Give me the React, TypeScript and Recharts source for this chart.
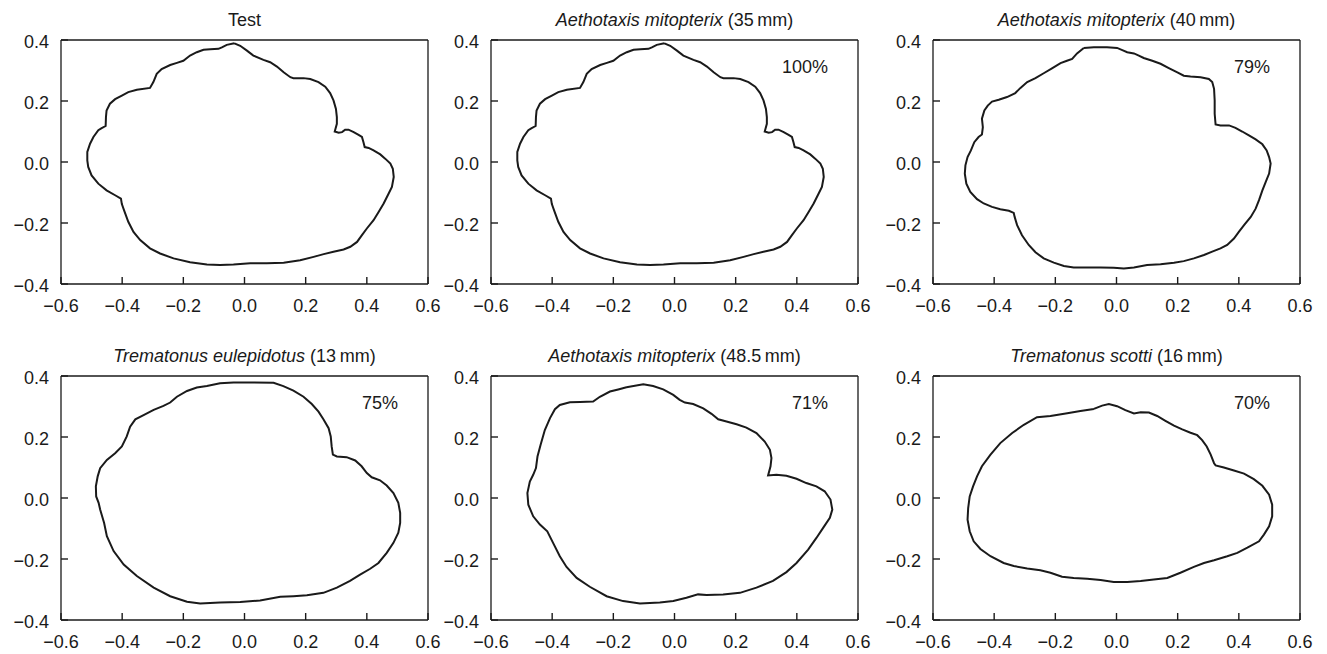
import { ScatterChart, Scatter, XAxis, YAxis } from 'recharts';

// outlines, clockwise from the top, as [x, y]
const testOutline: [number, number][] = [
  [-0.033, 0.389], [-0.014, 0.381], [0.008, 0.365], [0.029, 0.349], [0.062, 0.335], [0.084, 0.327],
  [0.106, 0.313], [0.128, 0.294], [0.15, 0.278], [0.16, 0.275], [0.193, 0.275], [0.215, 0.272],
  [0.242, 0.262], [0.264, 0.247], [0.28, 0.226], [0.291, 0.202], [0.299, 0.174], [0.302, 0.147],
  [0.302, 0.125], [0.295, 0.1], [0.308, 0.096], [0.319, 0.098], [0.329, 0.106], [0.34, 0.106],
  [0.357, 0.098], [0.373, 0.089], [0.384, 0.082], [0.389, 0.065], [0.393, 0.049], [0.406, 0.046],
  [0.422, 0.038], [0.444, 0.025], [0.46, 0.011], [0.477, -0.005], [0.485, -0.022], [0.488, -0.049],
  [0.482, -0.082], [0.471, -0.104], [0.455, -0.136], [0.439, -0.163], [0.422, -0.191], [0.4, -0.218],
  [0.384, -0.24], [0.368, -0.262], [0.346, -0.278], [0.324, -0.287], [0.291, -0.294], [0.259, -0.302],
  [0.226, -0.311], [0.182, -0.322], [0.128, -0.33], [0.073, -0.332], [0.019, -0.332], [-0.036, -0.336],
  [-0.08, -0.338], [-0.123, -0.336], [-0.178, -0.329], [-0.232, -0.316], [-0.276, -0.3], [-0.309, -0.283],
  [-0.341, -0.256], [-0.363, -0.229], [-0.38, -0.196], [-0.394, -0.158], [-0.401, -0.138], [-0.404, -0.12],
  [-0.423, -0.109], [-0.451, -0.093], [-0.478, -0.071], [-0.5, -0.044], [-0.511, -0.016], [-0.514, 0.005],
  [-0.514, 0.033], [-0.505, 0.06], [-0.494, 0.082], [-0.478, 0.104], [-0.467, 0.111], [-0.454, 0.118],
  [-0.453, 0.147], [-0.451, 0.169], [-0.44, 0.191], [-0.423, 0.206], [-0.401, 0.218], [-0.38, 0.229],
  [-0.352, 0.237], [-0.309, 0.243], [-0.298, 0.262], [-0.287, 0.289], [-0.271, 0.305], [-0.243, 0.318],
  [-0.221, 0.325], [-0.2, 0.332], [-0.178, 0.349], [-0.156, 0.36], [-0.134, 0.368], [-0.112, 0.37],
  [-0.085, 0.371], [-0.074, 0.376], [-0.058, 0.384],
];

const mitopterix40: [number, number][] = [
  [-0.107, 0.374], [-0.074, 0.376], [-0.031, 0.376], [0.002, 0.374], [0.019, 0.367], [0.035, 0.36],
  [0.057, 0.356], [0.073, 0.349], [0.089, 0.341], [0.117, 0.332], [0.144, 0.322], [0.171, 0.308],
  [0.199, 0.294], [0.22, 0.283], [0.242, 0.28], [0.275, 0.278], [0.302, 0.272], [0.313, 0.262],
  [0.319, 0.24], [0.321, 0.202], [0.321, 0.158], [0.324, 0.123], [0.34, 0.12], [0.368, 0.12],
  [0.389, 0.112], [0.411, 0.1], [0.433, 0.087], [0.455, 0.074], [0.477, 0.058], [0.491, 0.038],
  [0.499, 0.016], [0.504, -0.005], [0.499, -0.038], [0.488, -0.065], [0.477, -0.093], [0.466, -0.125],
  [0.455, -0.153], [0.439, -0.18], [0.417, -0.207], [0.4, -0.229], [0.384, -0.251], [0.362, -0.272],
  [0.34, -0.283], [0.313, -0.294], [0.286, -0.305], [0.253, -0.316], [0.22, -0.325], [0.188, -0.33],
  [0.144, -0.335], [0.1, -0.338], [0.057, -0.346], [0.024, -0.349], [-0.009, -0.347], [-0.052, -0.346],
  [-0.096, -0.346], [-0.14, -0.346], [-0.172, -0.341], [-0.205, -0.33], [-0.238, -0.316], [-0.265, -0.296],
  [-0.287, -0.272], [-0.309, -0.24], [-0.325, -0.207], [-0.333, -0.18], [-0.336, -0.167], [-0.352, -0.16],
  [-0.38, -0.155], [-0.407, -0.147], [-0.434, -0.136], [-0.456, -0.122], [-0.478, -0.098], [-0.491, -0.071],
  [-0.496, -0.038], [-0.494, -0.011], [-0.487, 0.016], [-0.476, 0.038], [-0.465, 0.065], [-0.451, 0.082],
  [-0.44, 0.09], [-0.437, 0.114], [-0.44, 0.142], [-0.432, 0.169], [-0.421, 0.185], [-0.407, 0.198],
  [-0.385, 0.204], [-0.358, 0.213], [-0.331, 0.226], [-0.314, 0.243], [-0.292, 0.262], [-0.265, 0.275],
  [-0.238, 0.291], [-0.211, 0.307], [-0.183, 0.324], [-0.162, 0.332], [-0.145, 0.338], [-0.129, 0.356],
];

const eulepidotus13: [number, number][] = [
  [-0.123, 0.367], [-0.08, 0.376], [-0.036, 0.379], [0.029, 0.379], [0.095, 0.378], [0.127, 0.367],
  [0.16, 0.352], [0.193, 0.332], [0.22, 0.308], [0.242, 0.283], [0.258, 0.258], [0.275, 0.229],
  [0.282, 0.202], [0.285, 0.169], [0.289, 0.142], [0.302, 0.136], [0.334, 0.134], [0.362, 0.123],
  [0.383, 0.104], [0.4, 0.082], [0.416, 0.068], [0.443, 0.058], [0.465, 0.041], [0.487, 0.016],
  [0.503, -0.016], [0.509, -0.049], [0.509, -0.082], [0.503, -0.114], [0.487, -0.147], [0.465, -0.18],
  [0.438, -0.213], [0.411, -0.232], [0.378, -0.251], [0.345, -0.272], [0.302, -0.294], [0.258, -0.311],
  [0.204, -0.319], [0.16, -0.322], [0.117, -0.324], [0.051, -0.336], [-0.014, -0.341], [-0.08, -0.343],
  [-0.145, -0.346], [-0.188, -0.34], [-0.243, -0.322], [-0.297, -0.294], [-0.352, -0.256], [-0.395, -0.218],
  [-0.428, -0.174], [-0.45, -0.125], [-0.459, -0.082], [-0.472, -0.038], [-0.477, -0.016], [-0.485, 0.005],
  [-0.486, 0.038], [-0.48, 0.071], [-0.472, 0.098], [-0.45, 0.125], [-0.423, 0.147], [-0.401, 0.169],
  [-0.385, 0.202], [-0.374, 0.234], [-0.357, 0.258], [-0.33, 0.272], [-0.297, 0.289], [-0.265, 0.302],
  [-0.243, 0.313], [-0.221, 0.332], [-0.188, 0.351], [-0.156, 0.362],
];

const mitopterix485: [number, number][] = [
  [-0.157, 0.363], [-0.102, 0.373], [-0.07, 0.367], [-0.037, 0.356], [-0.004, 0.338], [0.017, 0.322],
  [0.034, 0.313], [0.061, 0.308], [0.094, 0.294], [0.121, 0.276], [0.143, 0.258], [0.17, 0.251],
  [0.203, 0.242], [0.235, 0.231], [0.268, 0.213], [0.295, 0.185], [0.312, 0.158], [0.317, 0.131],
  [0.314, 0.104], [0.306, 0.074], [0.333, 0.076], [0.366, 0.073], [0.399, 0.063], [0.431, 0.049],
  [0.464, 0.038], [0.491, 0.022], [0.51, -0.005], [0.516, -0.038], [0.508, -0.065], [0.486, -0.098],
  [0.464, -0.131], [0.437, -0.169], [0.399, -0.213], [0.366, -0.243], [0.322, -0.272], [0.268, -0.294],
  [0.214, -0.311], [0.159, -0.316], [0.105, -0.318], [0.077, -0.316], [0.039, -0.327], [-0.004, -0.338],
  [-0.048, -0.343], [-0.113, -0.346], [-0.168, -0.338], [-0.222, -0.322], [-0.277, -0.291], [-0.32, -0.262],
  [-0.353, -0.226], [-0.375, -0.191], [-0.397, -0.147], [-0.416, -0.109], [-0.44, -0.087], [-0.462, -0.06],
  [-0.478, -0.022], [-0.481, 0.016], [-0.473, 0.054], [-0.462, 0.076], [-0.453, 0.098], [-0.448, 0.136],
  [-0.438, 0.174], [-0.424, 0.223], [-0.407, 0.262], [-0.391, 0.291], [-0.375, 0.305], [-0.342, 0.314],
  [-0.309, 0.315], [-0.266, 0.316], [-0.244, 0.332], [-0.211, 0.349], [-0.184, 0.356],
];

const scotti16: [number, number][] = [
  [-0.074, 0.292], [-0.047, 0.303], [-0.025, 0.308], [0.002, 0.301], [0.029, 0.288], [0.057, 0.277],
  [0.079, 0.281], [0.106, 0.28], [0.133, 0.269], [0.16, 0.253], [0.188, 0.237], [0.215, 0.225],
  [0.242, 0.214], [0.264, 0.206], [0.28, 0.19], [0.295, 0.169], [0.308, 0.142], [0.319, 0.114],
  [0.324, 0.107], [0.351, 0.1], [0.384, 0.09], [0.417, 0.08], [0.449, 0.062], [0.477, 0.04],
  [0.499, 0.011], [0.509, -0.022], [0.509, -0.06], [0.499, -0.093], [0.482, -0.12], [0.466, -0.142],
  [0.428, -0.163], [0.395, -0.18], [0.362, -0.191], [0.319, -0.204], [0.286, -0.213], [0.253, -0.226],
  [0.209, -0.245], [0.166, -0.262], [0.122, -0.267], [0.079, -0.272], [0.035, -0.275], [-0.009, -0.275],
  [-0.052, -0.269], [-0.096, -0.265], [-0.14, -0.262], [-0.178, -0.258], [-0.216, -0.245], [-0.249, -0.237],
  [-0.292, -0.231], [-0.336, -0.223], [-0.369, -0.213], [-0.412, -0.191], [-0.445, -0.167], [-0.467, -0.142],
  [-0.48, -0.109], [-0.487, -0.071], [-0.485, -0.033], [-0.48, 0.005], [-0.469, 0.038], [-0.456, 0.071],
  [-0.44, 0.104], [-0.412, 0.142], [-0.38, 0.18], [-0.341, 0.213], [-0.303, 0.24], [-0.26, 0.265],
  [-0.216, 0.269], [-0.161, 0.278], [-0.118, 0.285],
];

const speciesNames = ['', 'Aethotaxis mitopterix', 'Aethotaxis mitopterix', 'Trematonus eulepidotus', 'Aethotaxis mitopterix', 'Trematonus scotti'];
const plainTitles = ['Test', '(35\u2009mm)', '(40\u2009mm)', '(13\u2009mm)', '(48.5\u2009mm)', '(16\u2009mm)'];
const matchLabels = ['', '100%', '79%', '75%', '71%', '70%'];
const outlines = [testOutline, testOutline, mitopterix40, eulepidotus13, mitopterix485, scotti16];

const xMajor = [-0.6, -0.4, -0.2, 0, 0.2, 0.4, 0.6];
const xMinor = [
  -0.6, -0.55, -0.5, -0.45, -0.4, -0.35, -0.3, -0.25, -0.2, -0.15, -0.1, -0.05, 0,
  0.05, 0.1, 0.15, 0.2, 0.25, 0.3, 0.35, 0.4, 0.45, 0.5, 0.55, 0.6,
];
const yMajor = [-0.4, -0.2, 0, 0.2, 0.4];
const yMinor = [-0.4, -0.35, -0.3, -0.25, -0.2, -0.15, -0.1, -0.05, 0, 0.05, 0.1, 0.15, 0.2, 0.25, 0.3, 0.35, 0.4];

// frame positions on the page
const frameLefts = [61, 491, 933];
const frameTops = [40, 376];
const PLOT_W = 367;
const PLOT_H = 244;
// plot area sits at (70, 40) inside each chart; each of the 2 axes per side takes 1px
const M = { top: 38, right: 18, bottom: 32, left: 68 };
const OFF_X = 70;
const OFF_Y = 40;

const FONT = '"Liberation Sans", Arial, Helvetica, sans-serif';
const INK = '#1a1a1a';
const MAJOR = 7;
const MINOR = 4;

const fmt = (v: number) => v.toFixed(1).replace('-', '\u2212');

const BottomLabel = (props: any) => {
  const { x, y, payload } = props;
  return (
    <text x={x} y={y + 22} textAnchor="middle" dy="0.35em" fontSize={18} fontFamily={FONT} fill={INK}>
      {fmt(payload.value)}
    </text>
  );
};

const LeftLabel = (props: any) => {
  const { x, y, payload } = props;
  return (
    <text x={x - 12} y={y + 2} textAnchor="end" dy="0.35em" fontSize={18} fontFamily={FONT} fill={INK}>
      {fmt(payload.value)}
    </text>
  );
};

const NoDot = () => <g />;

function Panel({ outline, left, top }: { outline: [number, number][]; left: number; top: number }) {
  const pts = [...outline, outline[0]].map(([x, y]) => ({ x, y }));
  const axisLine = { stroke: INK, strokeWidth: 1.3 };
  const tickLine = { stroke: INK, strokeWidth: 1.4 };
  const xDom: [number, number] = [-0.6, 0.6];
  const yDom: [number, number] = [-0.4, 0.4];
  return (
    <div style={{ position: 'absolute', left: left - OFF_X, top: top - OFF_Y }}>
      <ScatterChart width={PLOT_W + OFF_X + 20} height={PLOT_H + OFF_Y + 34} margin={M}>
        {/* bottom: major ticks with labels, then minor ticks (inward) */}
        <XAxis type="number" dataKey="x" domain={xDom} ticks={xMajor} interval={0} height={1} stroke={INK}
          tickSize={-MAJOR} tickMargin={MAJOR} tickLine={tickLine} tick={BottomLabel} axisLine={axisLine} allowDataOverflow />
        <XAxis xAxisId="bm" type="number" domain={xDom} ticks={xMinor} interval={0} height={1} stroke={INK}
          tickSize={-MINOR} tickLine={tickLine} tick={false} axisLine={false} allowDataOverflow />
        {/* top: tick marks only */}
        <XAxis xAxisId="t" orientation="top" type="number" domain={xDom} ticks={xMajor} interval={0} height={1} stroke={INK}
          tickSize={-MAJOR} tickLine={tickLine} tick={false} axisLine={axisLine} allowDataOverflow />
        <XAxis xAxisId="tm" orientation="top" type="number" domain={xDom} ticks={xMinor} interval={0} height={1} stroke={INK}
          tickSize={-MINOR} tickLine={tickLine} tick={false} axisLine={false} allowDataOverflow />
        {/* left: major ticks with labels, then minor ticks */}
        <YAxis type="number" dataKey="y" domain={yDom} ticks={yMajor} interval={0} width={1} stroke={INK}
          tickSize={-MAJOR} tickMargin={MAJOR} tickLine={tickLine} tick={LeftLabel} axisLine={axisLine} allowDataOverflow />
        <YAxis yAxisId="lm" type="number" domain={yDom} ticks={yMinor} interval={0} width={1} stroke={INK}
          tickSize={-MINOR} tickLine={tickLine} tick={false} axisLine={false} allowDataOverflow />
        {/* right: tick marks only */}
        <YAxis yAxisId="r" orientation="right" type="number" domain={yDom} ticks={yMajor} interval={0} width={1} stroke={INK}
          tickSize={-MAJOR} tickLine={tickLine} tick={false} axisLine={axisLine} allowDataOverflow />
        <YAxis yAxisId="rm" orientation="right" type="number" domain={yDom} ticks={yMinor} interval={0} width={1} stroke={INK}
          tickSize={-MINOR} tickLine={tickLine} tick={false} axisLine={false} allowDataOverflow />
        <Scatter data={pts} line={{ stroke: INK, strokeWidth: 2, fill: 'none' }} lineJointType="linear"
          shape={NoDot} isAnimationActive={false} />
      </ScatterChart>
    </div>
  );
}

export default function App() {
  return (
    <div style={{ position: 'absolute', left: 0, top: 0, width: 1327, height: 654, overflow: 'hidden', background: '#fff' }}>
      {outlines.map((o, i) => (
        <Panel key={i} outline={o} left={frameLefts[i % 3]} top={frameTops[Math.floor(i / 3)]} />
      ))}
      <svg width={1327} height={654} style={{ position: 'absolute', left: 0, top: 0, pointerEvents: 'none' }}>
        {outlines.map((_, i) => {
          const fl = frameLefts[i % 3];
          const ft = frameTops[Math.floor(i / 3)];
          return (
            <g key={i} fontFamily={FONT} fontSize={18} fill={INK}>
              <text x={fl + PLOT_W / 2} y={ft - 14} textAnchor="middle">
                {speciesNames[i] && <tspan fontStyle="italic">{speciesNames[i] + ' '}</tspan>}
                <tspan>{plainTitles[i]}</tspan>
              </text>
              {matchLabels[i] && (
                <text x={fl + 337} y={ft + 33} textAnchor="end">{matchLabels[i]}</text>
              )}
            </g>
          );
        })}
      </svg>
    </div>
  );
}
